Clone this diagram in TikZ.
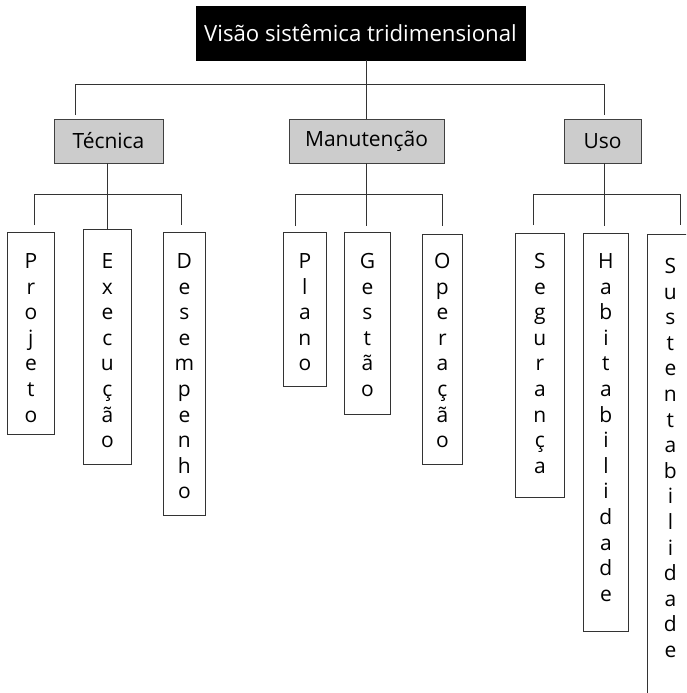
\documentclass[tikz,border=0pt]{standalone}
\usepackage{fontspec}
\setmainfont{Open Sans}
\newcommand\vletters[4]{\parbox[t][#2][t]{#1}{\vspace*{#3}\centering\rule{0pt}{17pt}#4\par}}
\begin{document}
\begin{tikzpicture}[x=1pt,y=-1pt,
  every node/.style={font=\fontsize{21}{25.6}\selectfont},
  titlebox/.style={draw=black, fill=black, text=white, inner sep=0pt, minimum width=329pt, minimum height=54pt, font=\fontsize{22.2}{25.6}\selectfont},
  catbox/.style={draw=black!75, fill=black!20, inner sep=0pt, minimum height=44pt, line width=0.9pt},
  vbox/.style={draw=black!80, fill=white, inner sep=0pt, anchor=north west, line width=0.8pt},
  conn/.style={draw=black!80, line width=0.9pt}]
\useasboundingbox (0,0) rectangle (686,693);
\clip (0,0) rectangle (686,693);

% top node
\node[titlebox] (title) at (360.5,33) {Visão sistêmica tridimensional};

% categories
\node[catbox, minimum width=109pt] (tec) at (108.5,141) {Técnica};
\node[catbox, minimum width=155pt] (man) at (366.5,141) {Manutenção};
\node[catbox, minimum width=77pt] (uso) at (602.5,141) {Uso};

% leaves - Técnica
\node[vbox] (proj) at (7,232) {\vletters{47pt}{202pt}{19pt}{P\\r\\o\\j\\e\\t\\o}};
\node[vbox] (exe) at (83,229) {\vletters{48pt}{235pt}{22pt}{E\\x\\e\\c\\u\\ç\\ã\\o}};
\node[vbox] (des) at (163,232) {\vletters{42pt}{283pt}{19pt}{D\\e\\s\\e\\m\\p\\e\\n\\h\\o}};
% leaves - Manutenção
\node[vbox] (pla) at (283,232) {\vletters{43pt}{154pt}{19pt}{P\\l\\a\\n\\o}};
\node[vbox] (ges) at (344,232) {\vletters{46pt}{182pt}{19pt}{G\\e\\s\\t\\ã\\o}};
\node[vbox] (ope) at (422,234) {\vletters{40pt}{230pt}{17pt}{O\\p\\e\\r\\a\\ç\\ã\\o}};
% leaves - Uso
\node[vbox] (seg) at (515,233) {\vletters{49pt}{264pt}{18pt}{S\\e\\g\\u\\r\\a\\n\\ç\\a}};
\node[vbox] (hab) at (583,233) {\vletters{45pt}{398pt}{18pt}{H\\a\\b\\i\\t\\a\\b\\i\\l\\i\\d\\a\\d\\e}};
\node[vbox] (sus) at (647,234) {\vletters{46pt}{480pt}{22pt}{S\\u\\s\\t\\e\\n\\t\\a\\b\\i\\l\\i\\d\\a\\d\\e}};

% top connectors
\coordinate (tl) at (75,84);
\coordinate (tr) at (604,84);
\coordinate (tle) at (75,115);
\coordinate (tre) at (604,115);
\draw[conn] (man.north) -- (man.north |- title.south);
\draw[conn] (tle) -- (tl) -- (tr) -- (tre);

% Técnica connectors
\coordinate (a1) at (34,194);
\coordinate (a2) at (181,194);
\draw[conn] (tec.south -| exe.north) -- (exe.north);
\draw[conn] (34,225) -- (a1) -- (a2) -- (181,225);

% Manutenção connectors
\coordinate (m1) at (295,194);
\coordinate (m2) at (442,194);
\draw[conn] (man.south) -- ++(0,63);
\draw[conn] (295,226) -- (m1) -- (m2) -- (442,226);

% Uso connectors
\coordinate (u1) at (533,194);
\coordinate (u2) at (680,194);
\draw[conn] (uso.south -| 604,0) -- (604,226);
\draw[conn] (533,225) -- (u1) -- (u2) -- (680,225);
\end{tikzpicture}
\end{document}
